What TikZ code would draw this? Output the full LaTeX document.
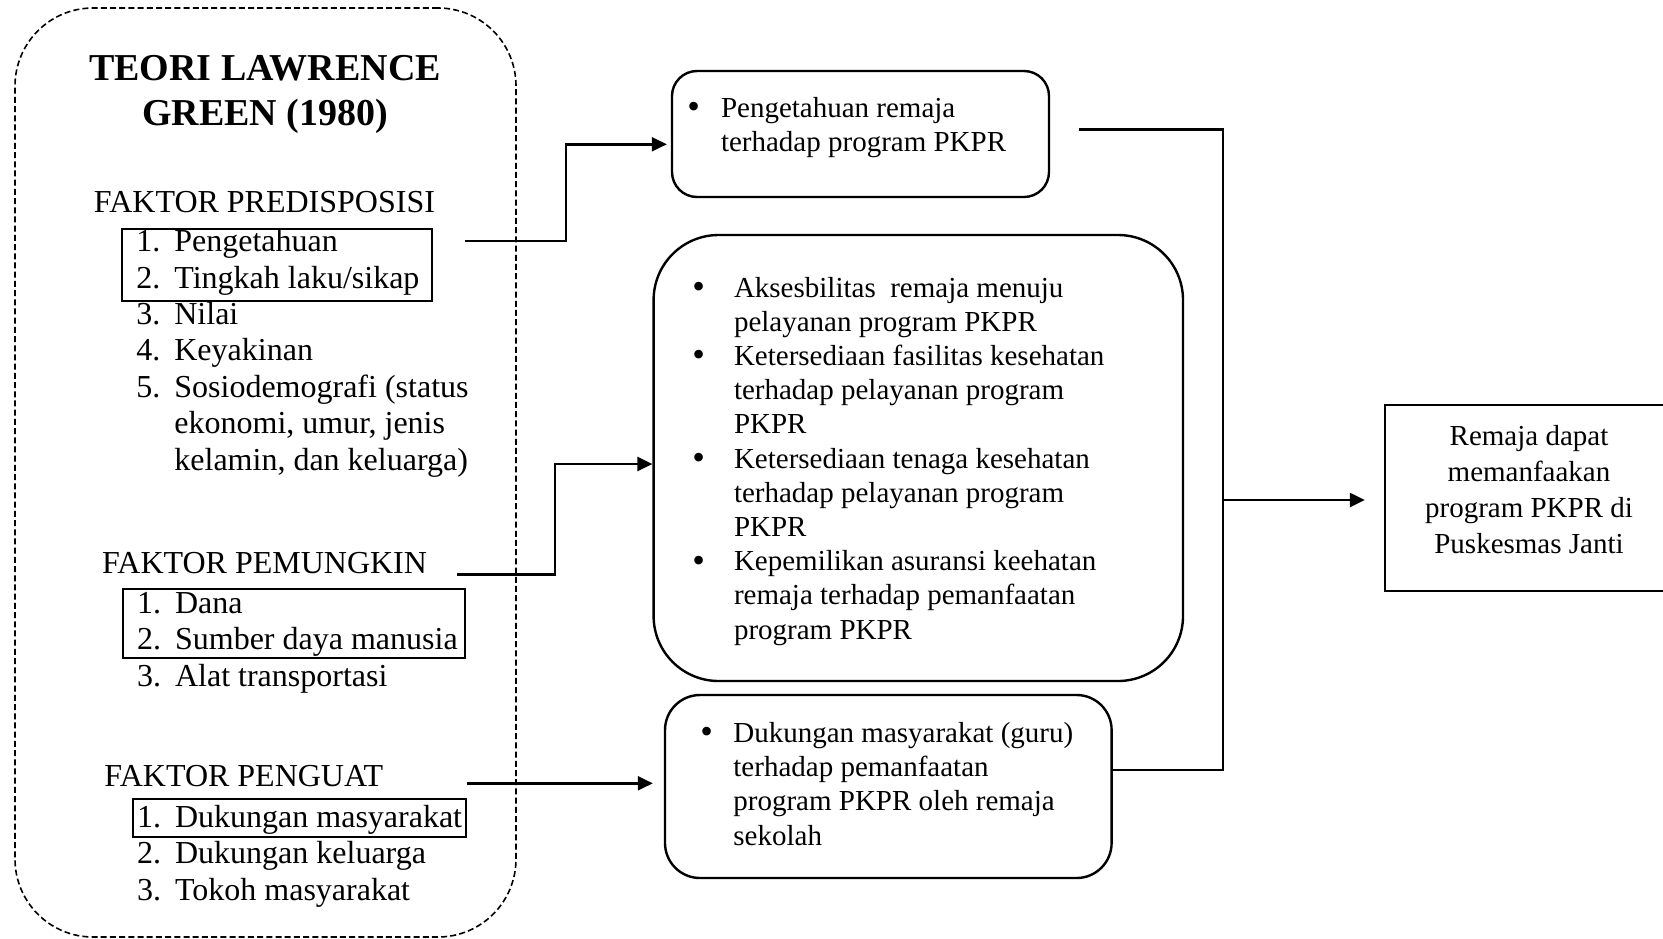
\documentclass[tikz,border=0pt]{standalone}
\usepackage{fontspec}
\setmainfont{Liberation Serif}
\usetikzlibrary{arrows.meta}

\newcommand{\itm}[2]{\makebox[19pt][l]{#1}#2}
\newcommand{\lanjut}{\hspace*{19pt}}
\newcommand{\bul}[2]{\makebox[#1][l]{\raisebox{-0.7pt}{\fontsize{18pt}{18pt}\selectfont\textbullet}}#2}

\tikzset{
	>={Triangle[length=7.5pt,width=7pt]},
	panel/.style={draw, dash pattern=on 3pt off 1.6pt, line width=0.8pt, rounded corners=39pt, minimum width=250.5pt, minimum height=464.5pt},
	judul/.style={inner sep=0, align=center, font=\fontsize{19pt}{22.5pt}\selectfont\bfseries},
	faktor/.style={inner sep=0, anchor=base west, font=\fontsize{16pt}{18.2pt}\selectfont},
	daftar/.style={faktor, align=left},
	bingkai/.style={draw, line width=1pt, inner sep=0},
	kotak/.style={draw, line width=1.2pt, inner sep=0},
	isi/.style={inner sep=0, anchor=base west, align=left, font=\fontsize{14.5pt}{17.1pt}\selectfont},
	alur/.style={line width=1.2pt}
}

\begin{document}
\begin{tikzpicture}[x=0.5pt, y=-0.5pt]
	\path[use as bounding box, clip] (0,0) rectangle (1663,938);

	\node[panel] (teori) at (265.5,472.5) {};
	\node[judul, anchor=base] (judul) at (265,125) {TEORI LAWRENCE\\GREEN (1980)};

	\node[faktor] (pre) at (93.5,212.7) {FAKTOR PREDISPOSISI};
	\node[daftar] (prel) at (136,470) {\itm{1.}{Pengetahuan}\\\itm{2.}{Tingkah laku/sikap}\\\itm{3.}{Nilai}\\\itm{4.}{Keyakinan}\\\itm{5.}{Sosiodemografi (status}\\\lanjut ekonomi, umur, jenis\\\lanjut kelamin, dan keluarga)};
	\node[bingkai, minimum width=155pt, minimum height=36pt] (fr1) at (277,265) {};

	\node[faktor] (pem) at (101.6,573.3) {FAKTOR PEMUNGKIN};
	\node[daftar] (peml) at (136.7,686) {\itm{1.}{Dana}\\\itm{2.}{Sumber daya manusia}\\\itm{3.}{Alat transportasi}};
	\node[bingkai, minimum width=171pt, minimum height=34.4pt] (fr2) at (294,623.4) {};

	\node[faktor] (pen) at (104,786.7) {FAKTOR PENGUAT};
	\node[daftar] (penl) at (136.7,900) {\itm{1.}{Dukungan masyarakat}\\\itm{2.}{Dukungan keluarga}\\\itm{3.}{Tokoh masyarakat}};
	\node[bingkai, minimum width=166.3pt, minimum height=18.9pt] (fr3) at (299.3,817.9) {};

	\node[kotak, rounded corners=12.5pt, minimum width=188.5pt, minimum height=63pt] (bx1) at (860.5,134) {};
	\node[isi] (t1) at (687,151.5) {\bul{16.8pt}{Pengetahuan remaja}\\\hspace*{16.8pt}terhadap program PKPR};

	\node[kotak, rounded corners=32.5pt, minimum width=264.7pt, minimum height=223pt] (bx2) at (918.3,458) {};
	\node[isi] (t2) at (692,639) {\bul{20.8pt}{Aksesbilitas\ \ remaja menuju}\\\hspace*{20.8pt}pelayanan program PKPR\\\bul{20.8pt}{Ketersediaan fasilitas kesehatan}\\\hspace*{20.8pt}terhadap pelayanan program\\\hspace*{20.8pt}PKPR\\\bul{20.8pt}{Ketersediaan tenaga kesehatan}\\\hspace*{20.8pt}terhadap pelayanan program\\\hspace*{20.8pt}PKPR\\\bul{20.8pt}{Kepemilikan asuransi keehatan}\\\hspace*{20.8pt}remaja terhadap pemanfaatan\\\hspace*{20.8pt}program PKPR};

	\node[kotak, rounded corners=17.5pt, minimum width=223.3pt, minimum height=91.5pt] (bx3) at (888.3,786.5) {};
	\node[isi] (t3) at (700,845) {\bul{16.5pt}{Dukungan masyarakat (guru)}\\\hspace*{16.5pt}terhadap pemanfaatan\\\hspace*{16.5pt}program PKPR oleh remaja\\\hspace*{16.5pt}sekolah};

	\node[kotak, minimum width=144pt, minimum height=93pt] (hasil) at (1529,498) {};
	\node[inner sep=0, align=center, anchor=base, font=\fontsize{14.5pt}{18pt}\selectfont] (th) at (1529,553) {Remaja dapat\\memanfaakan\\program PKPR di\\Puskesmas Janti};

	\coordinate (s1) at (465,240.7);
	\coordinate (k1) at (566,144.3);
	\coordinate (s2) at (457.3,574.3);
	\coordinate (k2) at (555,464);
	\coordinate (s3) at (467,783.3);
	\coordinate (o1) at (1079,129.3);
	\coordinate (k4) at (1222.7,770);
	\coordinate (k5) at (1222.7,500);

	\draw[alur, ->, shorten >=2pt] (s1) -| (k1) -- (k1 -| bx1.west);
	\draw[alur, ->] (s2) -| (k2) -- (k2 -| bx2.west);
	\draw[alur, ->, shorten >=5.5pt] (s3) -- (s3 -| bx3.west);
	\draw[alur] (o1) -| (k4) -- (k4 -| bx3.east);
	\draw[alur, ->, shorten >=9.5pt] (k5) -- (k5 -| hasil.west);
\end{tikzpicture}
\end{document}
